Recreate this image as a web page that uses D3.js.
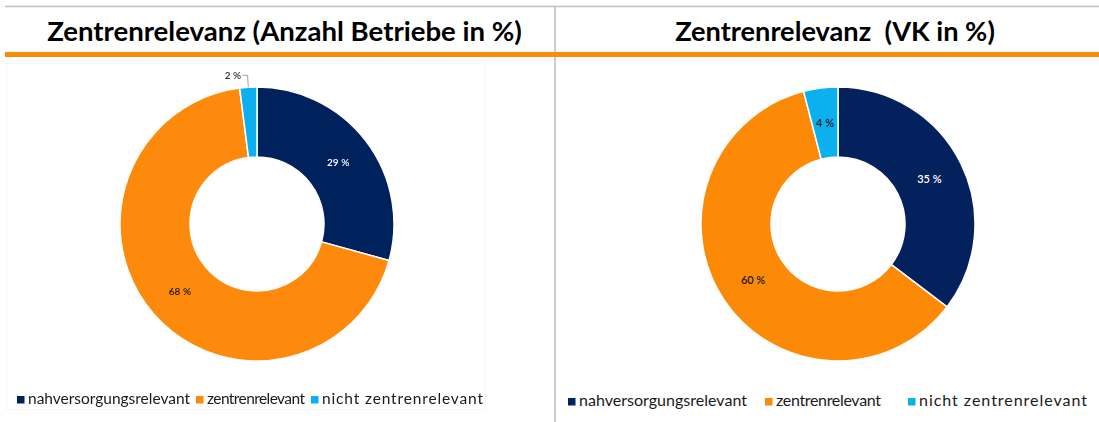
<!DOCTYPE html>
<html>
<head>
<meta charset="utf-8">
<script src="https://cdn.jsdelivr.net/npm/d3@7"></script>
<style>
  html, body { margin: 0; padding: 0; background: #fff; }
  svg { display: block; font-family: Lato, "Open Sans", sans-serif; }
</style>
</head>
<body>
<svg id="chart" width="1099" height="422"></svg>
<script>
// Categories and shares (percent) for the two donut charts
const categories = ["nahversorgungsrelevant", "zentrenrelevant", "nicht zentrenrelevant"];
const betriebeShare = [29, 68, 2];   // Anzahl Betriebe in %
const vkShare = [35, 60, 4];         // Verkaufsfläche in %
const titleLeft = "Zentrenrelevanz (Anzahl Betriebe in %)";
const titleRight = "Zentrenrelevanz  (VK in %)";
const colors = ["#03215c", "#fd8a07", "#0bb0ee"];

const svg = d3.select("#chart");
const W = 1099, H = 422;

// blur used for the softer left panel
const defs = svg.append("defs");
defs.append("filter").attr("id", "soft")
  .append("feGaussianBlur").attr("stdDeviation", 0.55);

// frame lines
svg.append("line").attr("x1", 5).attr("x2", W).attr("y1", 6.5).attr("y2", 6.5)
  .attr("stroke", "#c0c0c0").attr("stroke-width", 1.6);
svg.append("line").attr("x1", 555).attr("x2", 555).attr("y1", 6).attr("y2", H)
  .attr("stroke", "#c0c0c0").attr("stroke-width", 1.6);
svg.append("rect").attr("x", 5).attr("y", 52).attr("width", W - 5).attr("height", 5)
  .attr("fill", "#fd8a07");

// font size that makes a text element span the target width
function fitSize(sel, baseSize, targetWidth) {
  sel.style("font-size", baseSize + "px");
  const w = sel.node().getComputedTextLength();
  return baseSize * targetWidth / w;
}

// panel titles
const tL = svg.append("text").attr("x", 284.5).attr("y", 40.5).attr("text-anchor", "middle")
  .style("font-weight", 700).attr("fill", "#000").text(titleLeft);
tL.style("font-size", fitSize(tL, 24, 475) + "px");
const tR = svg.append("text").attr("x", 835).attr("y", 40.5).attr("text-anchor", "middle")
  .style("font-weight", 700).style("white-space", "pre").attr("fill", "#000").text(titleRight);
tR.style("font-size", fitSize(tR, 24, 320) + "px");

function donut(g, values, cx, cy, opts) {
  const pie = d3.pie().sort(null).value(d => d);
  const rOuter = 137, rInner = 67;
  const arc = d3.arc().innerRadius(rInner).outerRadius(rOuter);
  const labelArc = d3.arc().innerRadius((rInner + rOuter) / 2).outerRadius((rInner + rOuter) / 2);
  const arcs = pie(values);
  const c = g.append("g").attr("transform", `translate(${cx},${cy})`);
  c.selectAll("path").data(arcs).join("path")
    .attr("d", arc)
    .attr("fill", (d, i) => colors[i])
    .attr("stroke", "#fff").attr("stroke-width", 1.5);

  arcs.forEach((d, i) => {
    const lab = values[i] + " %";
    if (opts.outside && opts.outside.includes(i)) {
      const a = (d.startAngle + d.endAngle) / 2;
      const p0 = [Math.sin(a) * rOuter, -Math.cos(a) * rOuter];
      const p1 = [Math.sin(a) * (rOuter + 12), -Math.cos(a) * (rOuter + 12)];
      const p2 = [p1[0] - 5, p1[1]];
      c.append("polyline")
        .attr("points", [p0, p1, p2].map(p => p.join(",")).join(" "))
        .attr("fill", "none").attr("stroke", "#8c8c8c").attr("stroke-width", 0.8);
      c.append("text").attr("x", p2[0] - 1.5).attr("y", p2[1] + 3.5)
        .attr("text-anchor", "end").style("font-size", opts.labelSize + "px")
        .style("font-weight", 600).attr("fill", "#333").text(lab);
    } else {
      const [x, y] = labelArc.centroid(d);
      c.append("text").attr("x", x).attr("y", y + 4)
        .attr("text-anchor", "middle").style("font-size", opts.labelSize + "px")
        .style("font-weight", 600)
        .attr("fill", i === 0 ? "#fff" : "#1a1a1a").text(lab);
    }
  });
}

// legend: square marker + text, each text spread to its width
function legend(g, y, positions, size, widths) {
  const items = g.append("g");
  let fs = size;
  categories.forEach((name, i) => {
    items.append("rect").attr("x", positions[i]).attr("y", y - 8)
      .attr("width", 7.5).attr("height", 7.5).attr("fill", colors[i]);
    const t = items.append("text").attr("x", positions[i] + 11).attr("y", y)
      .attr("fill", "#1a1a1a").text(name);
    if (i === 0) fs = fitSize(t, size, widths[0]);
    t.style("font-size", fs + "px")
      .attr("textLength", widths[i]).attr("lengthAdjust", "spacing");
  });
}

// left panel
const left = svg.append("g").attr("filter", "url(#soft)");
left.append("rect").attr("x", 6.5).attr("y", 63.5).attr("width", 479).attr("height", 346)
  .attr("fill", "none").attr("stroke", "#f6f6f6").attr("stroke-width", 1);
donut(left, betriebeShare, 257, 224, { labelSize: 10, outside: [2] });
legend(left, 404, [17, 196, 311], 13, [162, 98, 161]);

// right panel
const right = svg.append("g");
donut(right, vkShare, 838, 224, { labelSize: 11 });
legend(right, 406, [568, 765, 908], 14, [168, 105, 168]);
</script>
</body>
</html>
